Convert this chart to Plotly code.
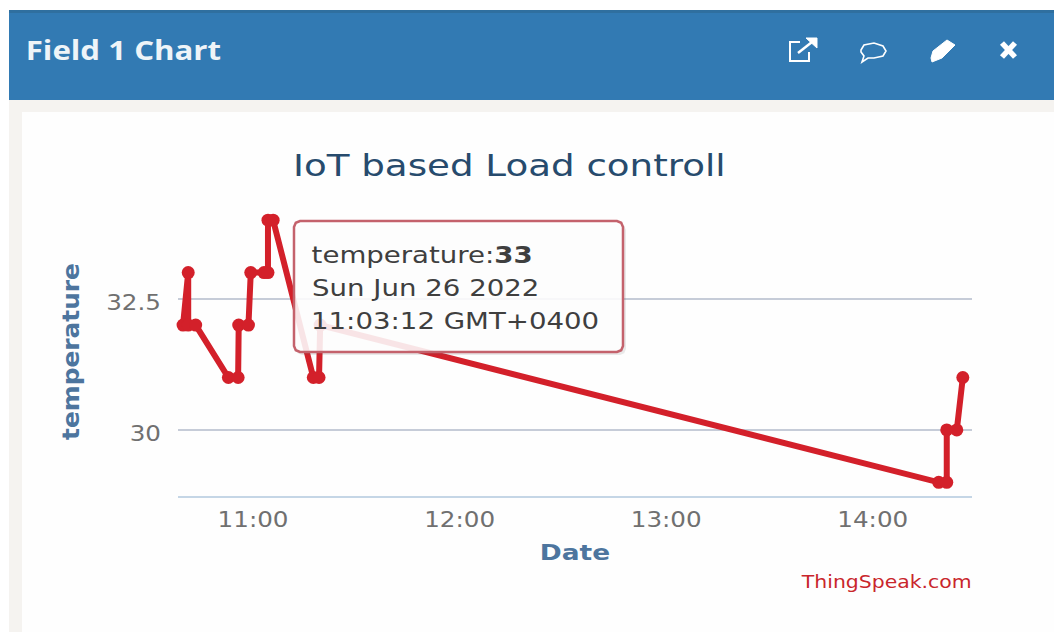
import plotly.graph_objects as go

W, H = 1054, 632

times = ["10:39:40", "10:41:10", "10:41:10", "10:43:20", "10:52:50", "10:55:40", "10:55:50",
         "10:58:40", "10:59:20", "11:03:12", "11:04:20", "11:04:20", "11:05:50", "11:17:30",
         "11:19:10", "11:19:30", "14:19:10", "14:21:30", "14:21:30", "14:24:25", "14:26:10"]
temperature = [32, 33, 32, 32, 31, 31, 32, 32, 33, 33, 33, 34, 34, 31, 31, 32, 29, 29, 30, 30, 31]
dates = ["2022-06-26 " + t for t in times]

y_ticks = [30, 32.5]
y_tick_labels = ["30", "32.5"]
x_ticks = ["2022-06-26 11:00", "2022-06-26 12:00", "2022-06-26 13:00", "2022-06-26 14:00"]
x_tick_labels = ["11:00", "12:00", "13:00", "14:00"]

FONT = "DejaVu Sans"
RED = "#d3202a"


def px(x):
    return x / W


def py(y):
    return 1 - y / H


def rect(x0, y0, x1, y1, fill, line=None, layer="below"):
    return dict(type="rect", xref="paper", yref="paper", x0=px(x0), x1=px(x1), y0=py(y0), y1=py(y1),
                fillcolor=fill, line=dict(width=0) if line is None else line, layer=layer)


def path(points, fill="rgba(0,0,0,0)", stroke="white", width=2, close=False):
    d = "M " + " L ".join(f"{px(a):.5f},{py(b):.5f}" for a, b in points) + (" Z" if close else "")
    return dict(type="path", xref="paper", yref="paper", path=d, fillcolor=fill,
                line=dict(color=stroke, width=width), layer="above")


def rounded(x0, y0, x1, y1, r, fill, stroke, width):
    c = [(x0 + r, y0), (x1 - r, y0), (x1 - r * .3, y0 + r * .3), (x1, y0 + r), (x1, y1 - r),
         (x1 - r * .3, y1 - r * .3), (x1 - r, y1), (x0 + r, y1), (x0 + r * .3, y1 - r * .3),
         (x0, y1 - r), (x0, y0 + r), (x0 + r * .3, y0 + r * .3)]
    return path(c, fill, stroke, width, True)


shapes = [
    rect(9, 10, W, 100, "#327ab3"),
    rect(9, 10, W, 13, "#2f6f9f"),
    rect(9, 100, W, H, "#f5f3f0"),
    rect(22, 112, W, H, "#fefefe"),
    # tooltip
    rounded(296, 224, 626, 355, 6, "rgba(90,90,90,0.13)", "rgba(0,0,0,0)", 0),
    rounded(294, 221, 623, 352, 6, "rgba(255,255,255,0.88)", "#c4626c", 2.5),
    # external-link icon
    path([(800, 42), (790, 42), (790, 61), (809, 61), (809, 52)], width=2),
    path([(798, 53), (812, 42)], width=2.5),
    path([(806, 38), (817, 38), (817, 48)], fill="white", close=True, width=1),
    # speech bubble icon
    path([(861, 50), (864, 45), (874, 43), (883, 46), (886, 51), (883, 56), (874, 58),
          (868, 58), (862, 62), (864, 56), (861, 52)], width=1.6, close=True),
    # pencil icon
    path([(931, 58), (933, 51), (947, 40), (955, 45), (942, 58), (932, 62)],
         fill="white", width=1, close=True),
    # close icon
    path([(1002, 43), (1015, 57)], width=5.5),
    path([(1015, 43), (1002, 57)], width=5.5),
]

annotations = [
    dict(text="<b>Field 1 Chart</b>", x=px(123.5), y=py(50), xanchor="center", yanchor="middle",
         font=dict(family="Open Sans", size=26, color="#eef4f8")),
    dict(text="IoT based Load controll", x=px(509), y=py(165), xanchor="center", yanchor="middle",
         font=dict(family=FONT, size=31, color="#274b6d")),
    dict(text="temperature:<b>33</b>", x=px(422), y=py(255), xanchor="center", yanchor="middle",
         font=dict(family=FONT, size=23, color="#3f3f3f")),
    dict(text="Sun Jun 26 2022", x=px(425), y=py(288), xanchor="center", yanchor="middle",
         font=dict(family=FONT, size=23, color="#3f3f3f")),
    dict(text="11:03:12 GMT+0400", x=px(454.5), y=py(321), xanchor="center", yanchor="middle",
         font=dict(family=FONT, size=23, color="#3f3f3f")),
    dict(text="ThingSpeak.com", x=px(885.5), y=py(582), xanchor="center", yanchor="middle",
         font=dict(family=FONT, size=17, color="#c9262c")),
]
for a in annotations:
    a.update(xref="paper", yref="paper", showarrow=False)

fig = go.Figure(go.Scatter(x=dates, y=temperature, mode="lines+markers",
                           line=dict(color=RED, width=6),
                           marker=dict(color=RED, size=13, symbol="circle"),
                           cliponaxis=False, hoverinfo="skip"))

fig.update_layout(
    width=W, height=H, margin=dict(l=0, r=0, t=0, b=0), autosize=False,
    paper_bgcolor="white", plot_bgcolor="rgba(0,0,0,0)", showlegend=False,
    shapes=shapes, annotations=annotations,
    xaxis=dict(domain=[px(178), px(972)], type="date", automargin=False,
               range=["2022-06-26 10:38:12", "2022-06-26 14:28:50"],
               tickvals=x_ticks, ticktext=x_tick_labels, showgrid=False, zeroline=False,
               showline=True, linecolor="#c5d6e6", linewidth=2, ticks="", ticklabelstandoff=4,
               tickfont=dict(family=FONT, size=20.5, color="#707070"),
               title=dict(text="<b>Date</b>", standoff=14,
                          font=dict(family=FONT, size=22, color="#4d759e"))),
    yaxis=dict(domain=[py(496), py(195)], range=[28.74, 34.48], automargin=False,
               tickvals=y_ticks, ticktext=y_tick_labels, showgrid=True, gridcolor="#c6ccd8",
               gridwidth=1.5, zeroline=False, showline=False, ticks="", ticklabelstandoff=16,
               tickfont=dict(family=FONT, size=20.5, color="#707070"),
               title=dict(text="<b>temperature</b>", standoff=29,
                          font=dict(family=FONT, size=23, color="#4d759e"))),
)

# The reference screenshot is stretched sideways, so the text is widened to match.
stretch_script = """
document.body.style.margin = '0';
document.querySelectorAll('.main-svg text').forEach(function (el) {
  var rotated = (el.getAttribute('transform') || '').indexOf('rotate') >= 0;
  var k = rotated ? 1.08 : 1.2;
  el.setAttribute('textLength', el.getComputedTextLength() * k);
  el.setAttribute('lengthAdjust', 'spacingAndGlyphs');
  if (rotated) { el.setAttribute('dx', -6); }
  if (el.textContent === '32.5') { el.setAttribute('dy', 4); }
  if (el.textContent === '30') { el.setAttribute('dy', 4); }
});
"""

fig.write_html("out.html", config=dict(displayModeBar=False, responsive=False),
               post_script=stretch_script)
